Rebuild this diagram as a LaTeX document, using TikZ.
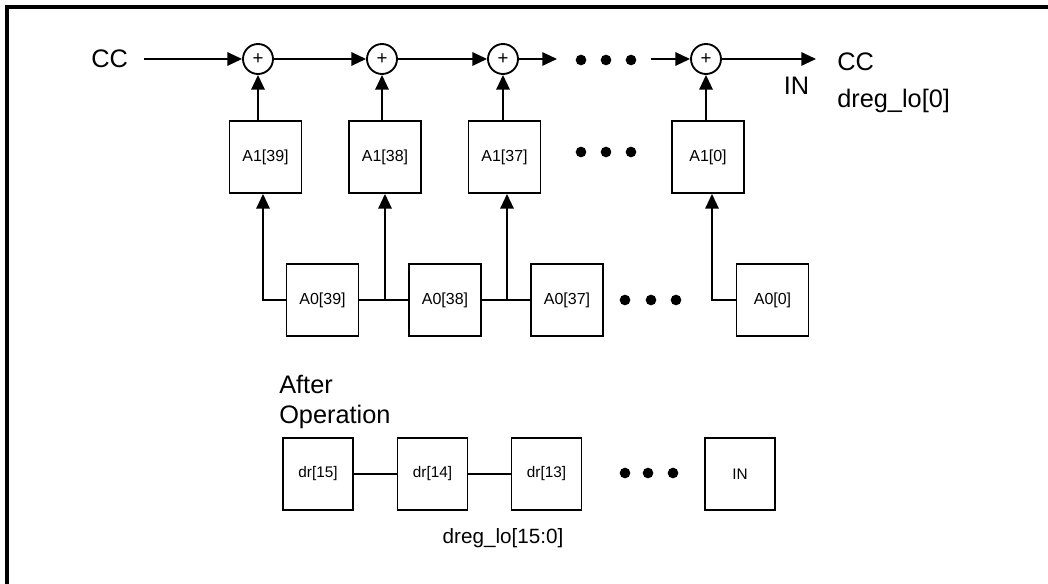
\documentclass[tikz,border=0pt]{standalone}
\usepackage{fontspec}
\setmainfont{Liberation Sans}
\usetikzlibrary{arrows.meta, positioning, calc}
\tikzset{
  regbox/.style={draw, line width=1.4pt, minimum width=54pt, minimum height=54pt,
                 font=\fontsize{12}{14}\selectfont, inner sep=0pt},
  sumnode/.style={draw, circle, line width=1.4pt, minimum size=22.5pt, inner sep=0pt,
                  font=\fontsize{14}{16}\selectfont},
  lbl/.style={font=\fontsize{19}{23}\selectfont, inner sep=0pt},
  arr/.style={-{Triangle[length=11pt,width=10pt]}, line width=1.4pt},
  wire/.style={line width=1.4pt},
  frame/.style={line width=2.6pt},
}

\begin{document}
\begin{tikzpicture}[x=0.75pt, y=-0.75pt,
    drbox/.style={regbox, minimum width=52.5pt, font=\fontsize{11.5}{13}\selectfont},
    dotmark/.style={fill, circle, minimum size=8pt, inner sep=0pt}]
  \useasboundingbox (0,0) rectangle (1048,584);
  \draw[frame] (7,584) -- (7,7) -- (1048,7);

  % adder chain
  \node[lbl, anchor=west] (cin) at (91,59) {CC};
  \node[sumnode] (s1) at (258,59) {+};
  \node[sumnode] (s2) at (382,59) {+};
  \node[sumnode] (s3) at (503,59) {+};
  \node[sumnode] (s4) at (706,59) {+};
  \coordinate (d1) at (557,59);
  \coordinate (d2) at (651,59);
  \coordinate (cout) at (816,59);
  \node[lbl, anchor=west] (ccout) at (837,62) {CC};
  \node[lbl] (inlbl) at (796.5,86) {IN};
  \node[lbl, anchor=west] (dreg0) at (837,101) {dreg\_lo[0]};
  \draw[arr, shorten <=12pt] (cin.east |- s1) -- (s1);
  \draw[arr] (s1) -- (s2);
  \draw[arr] (s2) -- (s3);
  \draw[arr] (s3) -- (d1);
  \draw[arr] (d2) -- (s4);
  \draw[arr] (s4) -- (cout);

  \node[regbox] (b1) at (265.5,157) {A1[39]};
  \node[regbox] (b2) at (385,157) {A1[38]};
  \node[regbox] (b3) at (504.5,157) {A1[37]};
  \node[regbox] (b4) at (708,157) {A1[0]};
  \draw[arr] (b1.north -| s1) -- (s1);
  \draw[arr] (b2.north -| s2) -- (s2);
  \draw[arr] (b3.north -| s3) -- (s3);
  \draw[arr] (b4.north -| s4) -- (s4);

  \node[regbox] (c1) at (322.5,300) {A0[39]};
  \node[regbox] (c2) at (445,300) {A0[38]};
  \node[regbox] (c3) at (567,300) {A0[37]};
  \node[regbox] (c4) at (772.5,300) {A0[0]};
  \coordinate (j1) at (263,300);
  \coordinate (j2) at (385,300);
  \coordinate (j3) at (507,300);
  \coordinate (j4) at (712,300);
  \draw[wire] (c1.east) -- (c2.west);
  \draw[wire] (c2.east) -- (c3.west);
  \draw[arr] (c1.west) -- (j1) -- (b1.south -| j1);
  \draw[arr] (j2) -- (b2.south -| j2);
  \draw[arr] (j3) -- (b3.south -| j3);
  \draw[arr] (c4.west) -- (j4) -- (b4.south -| j4);

  \foreach \x in {581,606,631} {
    \node[dotmark] at (\x,60) {};
    \node[dotmark] at (\x,152) {};
  }
  \foreach \x in {625,651,676} \node[dotmark] at (\x,300) {};
  \foreach \x in {625,648,673} \node[dotmark] at (\x,473) {};

  % result register
  \node[lbl, anchor=west, align=left] (after) at (279,402) {After\\Operation};
  \node[drbox] (r15) at (318,474) {dr[15]};
  \node[drbox] (r14) at (432.5,474) {dr[14]};
  \node[drbox] (r13) at (546.5,474) {dr[13]};
  \node[drbox] (rin) at (740,474) {IN};
  \draw[wire] (r15.east) -- (r14.west);
  \draw[wire] (r14.east) -- (r13.west);
  \node[lbl, font=\fontsize{15.5}{18}\selectfont] (dreg) at (503,538) {dreg\_lo[15:0]};
\end{tikzpicture}
\end{document}
